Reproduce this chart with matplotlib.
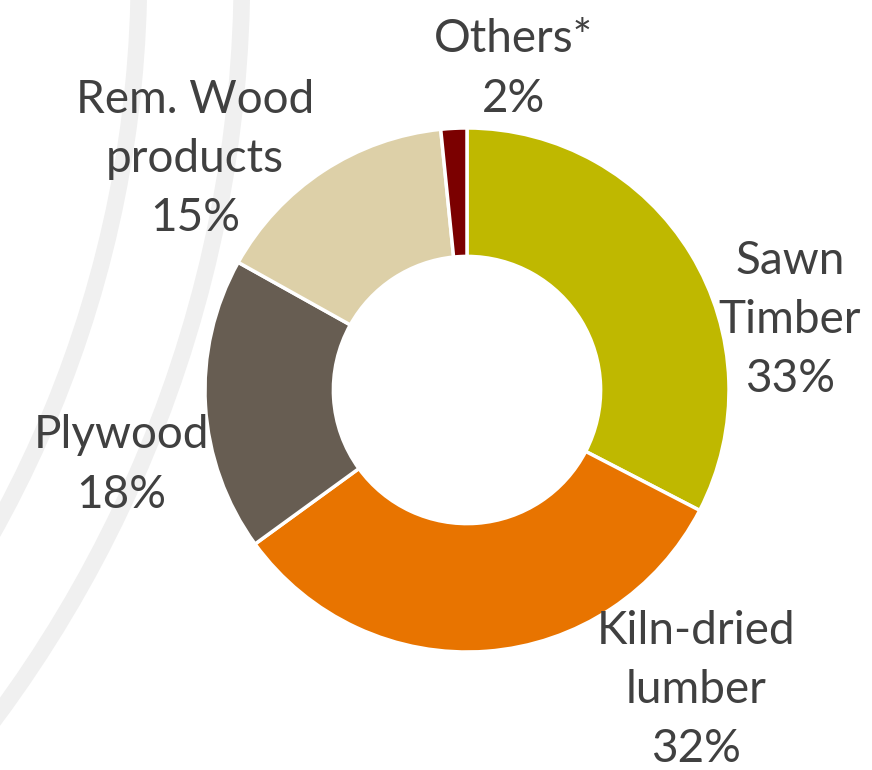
import matplotlib
matplotlib.use("Agg")
import matplotlib.pyplot as plt
from matplotlib.patches import Arc

categories = ["Sawn\nTimber", "Kiln-dried\nlumber", "Plywood", "Rem. Wood\nproducts", "Others*"]
shares = [32.6, 32.4, 18.1, 15.3, 1.6]
colors = ["#BFB800", "#E87400", "#675D52", "#DDD0A8", "#7B0000"]

W, H = 872, 770
fig = plt.figure(figsize=(W / 100, H / 100), dpi=100)
ax = fig.add_axes([0, 0, 1, 1])

# decorative background arcs (concentric, centre far off to the upper left)
for r in [1149, 1252]:
    ax.add_patch(Arc((-1010, H + 28), 2 * r, 2 * r, theta1=-90, theta2=90,
                     color="#F0F0F0", lw=12, zorder=0))

R = 262
cx, cy = 467, H - 390
wedges, _ = ax.pie(shares, colors=colors, startangle=90, counterclock=False,
                   radius=R, center=(cx, cy), frame=True,
                   wedgeprops=dict(width=R * 0.49, edgecolor="white", linewidth=2.5))
ax.set_xlim(0, W)
ax.set_ylim(0, H)
ax.set_aspect("equal")
ax.axis("off")

label_pos = [(790, 320), (696, 690), (121, 465), (195, 159), (513, 69)]
for name, v, (x, y) in zip(categories, shares, label_pos):
    ax.text(x, H - y, f"{name}\n{round(v)}%", ha="center", va="center",
            fontsize=33, family=["Lato", "DejaVu Sans"], color="#404040",
            linespacing=1.5)

fig.savefig("out.png", dpi=100)
